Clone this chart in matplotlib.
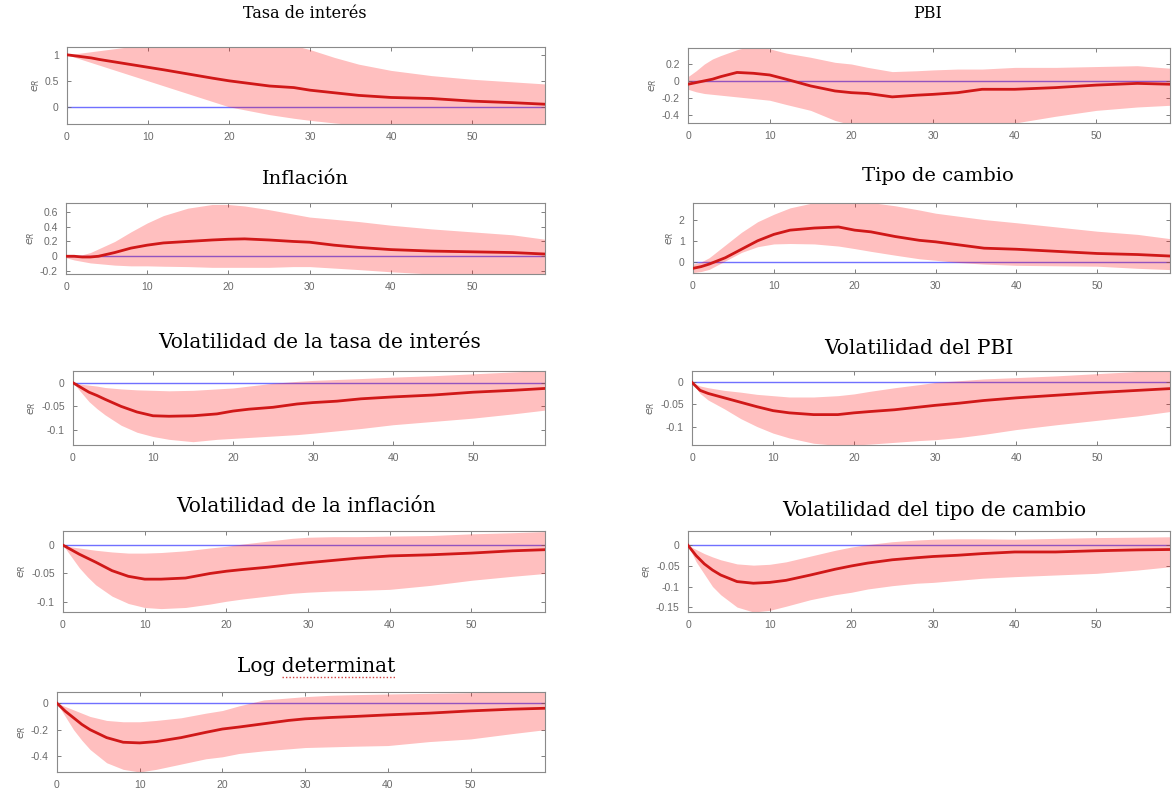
import matplotlib
matplotlib.use("Agg")
import matplotlib.pyplot as plt
from matplotlib.lines import Line2D
import numpy as np

# horizons (quarters)
h = [0, 1, 2, 3, 4, 6, 8, 10, 12, 15, 18, 20, 22, 25, 28, 30, 33, 36, 40, 45, 50, 55, 59]

# Tasa de interés
tasa_med = [1.0, 0.98, 0.96, 0.94, 0.91, 0.86, 0.81, 0.76, 0.71, 0.63, 0.55, 0.50, 0.46, 0.40, 0.37, 0.32, 0.27, 0.22, 0.18, 0.16, 0.11, 0.08, 0.05]
tasa_up = [1.0, 1.02, 1.04, 1.06, 1.08, 1.12, 1.16, 1.2, 1.22, 1.24, 1.24, 1.24, 1.23, 1.22, 1.18, 1.1, 0.95, 0.82, 0.7, 0.6, 0.53, 0.48, 0.44]
tasa_lo = [1.0, 0.95, 0.9, 0.85, 0.8, 0.7, 0.6, 0.5, 0.4, 0.25, 0.1, 0.0, -0.06, -0.15, -0.22, -0.26, -0.31, -0.35, -0.38, -0.4, -0.4, -0.4, -0.4]

# PBI
pbi_med = [-0.04, -0.02, 0.0, 0.02, 0.05, 0.1, 0.09, 0.07, 0.02, -0.06, -0.12, -0.14, -0.15, -0.19, -0.17, -0.16, -0.14, -0.1, -0.1, -0.08, -0.05, -0.03, -0.04]
pbi_up = [0.05, 0.12, 0.2, 0.26, 0.3, 0.37, 0.42, 0.38, 0.33, 0.28, 0.22, 0.2, 0.16, 0.11, 0.12, 0.13, 0.14, 0.14, 0.16, 0.16, 0.17, 0.18, 0.15]
pbi_lo = [-0.1, -0.13, -0.15, -0.16, -0.17, -0.19, -0.21, -0.23, -0.28, -0.35, -0.47, -0.52, -0.52, -0.52, -0.52, -0.52, -0.52, -0.52, -0.5, -0.42, -0.35, -0.31, -0.29]

# Inflación
infl_med = [0, 0, -0.01, -0.01, 0.0, 0.05, 0.11, 0.15, 0.18, 0.2, 0.22, 0.23, 0.235, 0.22, 0.2, 0.19, 0.15, 0.12, 0.09, 0.07, 0.06, 0.05, 0.03]
infl_up = [0, 0.0, 0.02, 0.05, 0.1, 0.2, 0.33, 0.45, 0.55, 0.65, 0.7, 0.7, 0.68, 0.63, 0.57, 0.53, 0.5, 0.47, 0.42, 0.37, 0.33, 0.29, 0.23]
infl_lo = [-0.02, -0.05, -0.07, -0.09, -0.1, -0.12, -0.13, -0.13, -0.135, -0.14, -0.15, -0.15, -0.15, -0.15, -0.14, -0.14, -0.16, -0.18, -0.21, -0.24, -0.24, -0.24, -0.24]

# Tipo de cambio
tc_med = [-0.3, -0.22, -0.1, 0.05, 0.2, 0.6, 1.0, 1.3, 1.5, 1.6, 1.65, 1.5, 1.42, 1.2, 1.02, 0.95, 0.8, 0.65, 0.6, 0.5, 0.4, 0.35, 0.28]
tc_up = [-0.1, 0.0, 0.2, 0.5, 0.8, 1.4, 1.9, 2.25, 2.55, 2.8, 2.85, 2.85, 2.8, 2.65, 2.45, 2.3, 2.15, 2.0, 1.85, 1.65, 1.45, 1.3, 1.1]
tc_lo = [-0.5, -0.45, -0.35, -0.15, 0.05, 0.45, 0.72, 0.85, 0.87, 0.85, 0.75, 0.63, 0.5, 0.32, 0.15, 0.08, -0.03, -0.1, -0.16, -0.18, -0.2, -0.3, -0.36]

# Volatilidad de la tasa de interés
vtasa_med = [0, -0.01, -0.02, -0.027, -0.035, -0.05, -0.062, -0.07, -0.071, -0.07, -0.066, -0.06, -0.056, -0.052, -0.045, -0.042, -0.039, -0.034, -0.03, -0.026, -0.02, -0.016, -0.012]
vtasa_up = [0, -0.003, -0.005, -0.007, -0.01, -0.013, -0.015, -0.016, -0.017, -0.016, -0.013, -0.011, -0.007, -0.001, 0.003, 0.005, 0.007, 0.009, 0.012, 0.015, 0.019, 0.023, 0.026]
vtasa_lo = [0, -0.02, -0.04, -0.055, -0.068, -0.09, -0.105, -0.114, -0.12, -0.125, -0.12, -0.118, -0.116, -0.113, -0.11, -0.107, -0.102, -0.097, -0.089, -0.082, -0.075, -0.066, -0.058]

# Volatilidad del PBI
vpbi_med = [0, -0.018, -0.025, -0.03, -0.035, -0.045, -0.055, -0.064, -0.069, -0.073, -0.073, -0.069, -0.066, -0.062, -0.056, -0.052, -0.047, -0.041, -0.035, -0.029, -0.023, -0.018, -0.014]
vpbi_up = [0, -0.008, -0.012, -0.015, -0.018, -0.022, -0.027, -0.03, -0.033, -0.033, -0.03, -0.026, -0.02, -0.012, -0.005, 0.0, 0.004, 0.008, 0.011, 0.015, 0.02, 0.025, 0.028]
vpbi_lo = [0, -0.025, -0.04, -0.05, -0.06, -0.082, -0.1, -0.115, -0.126, -0.138, -0.143, -0.142, -0.14, -0.136, -0.132, -0.13, -0.125, -0.118, -0.107, -0.096, -0.086, -0.076, -0.066]

# Volatilidad de la inflación
vinf_med = [0, -0.008, -0.016, -0.023, -0.03, -0.045, -0.055, -0.06, -0.06, -0.058, -0.05, -0.046, -0.043, -0.039, -0.034, -0.031, -0.027, -0.023, -0.019, -0.017, -0.014, -0.01, -0.008]
vinf_up = [0, -0.003, -0.005, -0.007, -0.009, -0.012, -0.014, -0.014, -0.013, -0.01, -0.005, -0.002, 0.002, 0.007, 0.012, 0.014, 0.015, 0.015, 0.016, 0.017, 0.02, 0.022, 0.024]
vinf_lo = [0, -0.02, -0.04, -0.056, -0.07, -0.09, -0.103, -0.11, -0.112, -0.11, -0.104, -0.099, -0.095, -0.09, -0.085, -0.083, -0.081, -0.08, -0.078, -0.071, -0.062, -0.055, -0.05]

# Volatilidad del tipo de cambio
vtc_med = [0, -0.025, -0.045, -0.06, -0.072, -0.088, -0.092, -0.09, -0.085, -0.072, -0.058, -0.05, -0.043, -0.035, -0.03, -0.027, -0.024, -0.02, -0.016, -0.016, -0.013, -0.011, -0.01]
vtc_up = [0, -0.01, -0.02, -0.028, -0.035, -0.045, -0.048, -0.046, -0.04, -0.026, -0.012, -0.004, 0.002, 0.009, 0.013, 0.015, 0.016, 0.016, 0.015, 0.017, 0.019, 0.02, 0.021]
vtc_lo = [0, -0.04, -0.07, -0.1, -0.12, -0.15, -0.162, -0.158, -0.148, -0.132, -0.12, -0.114, -0.106, -0.098, -0.092, -0.09, -0.085, -0.08, -0.076, -0.072, -0.068, -0.06, -0.052]

# Log determinat
ld_med = [0, -0.06, -0.11, -0.16, -0.2, -0.26, -0.295, -0.3, -0.29, -0.26, -0.22, -0.195, -0.18, -0.155, -0.13, -0.118, -0.108, -0.1, -0.088, -0.075, -0.058, -0.045, -0.038]
ld_up = [0, -0.025, -0.05, -0.075, -0.1, -0.13, -0.14, -0.14, -0.13, -0.11, -0.075, -0.055, -0.02, 0.025, 0.04, 0.05, 0.06, 0.065, 0.07, 0.075, 0.08, 0.085, 0.085]
ld_lo = [0, -0.1, -0.2, -0.28, -0.35, -0.45, -0.5, -0.52, -0.5, -0.46, -0.42, -0.405, -0.38, -0.36, -0.345, -0.335, -0.33, -0.325, -0.32, -0.29, -0.27, -0.23, -0.2]

titles = ["Tasa de interés", "PBI", "Inflación", "Tipo de cambio",
          "Volatilidad de la tasa de interés", "Volatilidad del PBI",
          "Volatilidad de la inflación", "Volatilidad del tipo de cambio",
          "Log determinat"]
series = [(tasa_med, tasa_up, tasa_lo), (pbi_med, pbi_up, pbi_lo),
          (infl_med, infl_up, infl_lo), (tc_med, tc_up, tc_lo),
          (vtasa_med, vtasa_up, vtasa_lo), (vpbi_med, vpbi_up, vpbi_lo),
          (vinf_med, vinf_up, vinf_lo), (vtc_med, vtc_up, vtc_lo),
          (ld_med, ld_up, ld_lo)]
yticks = [[0, 0.5, 1], [-0.4, -0.2, 0, 0.2], [-0.2, 0, 0.2, 0.4, 0.6], [0, 1, 2],
          [-0.1, -0.05, 0], [-0.1, -0.05, 0], [-0.1, -0.05, 0], [-0.15, -0.1, -0.05, 0],
          [-0.4, -0.2, 0]]
ylims = [(-0.33, 1.15), (-0.5, 0.39), (-0.24, 0.72), (-0.52, 2.78),
         (-0.132, 0.025), (-0.142, 0.026), (-0.118, 0.025), (-0.162, 0.035),
         (-0.52, 0.085)]
xticks = [0, 10, 20, 30, 40, 50]

# layout in pixels: (left, top, right, bottom)
W, H = 1176, 798
boxes = [(67, 47, 545, 124), (688, 48, 1170, 123),
         (66, 203, 545, 274), (693, 203, 1170, 273),
         (73, 371, 545, 445), (692, 371, 1170, 445),
         (63, 531, 545, 612), (688, 531, 1170, 612),
         (57, 692, 545, 772)]
title_pos = [(305, 13, 11.5), (928, 13, 11.5), (305, 179, 14), (938, 176, 14),
             (319, 343, 14.5), (919, 348, 14.5), (306, 506, 14.5), (934, 511, 14.5),
             (316, 666, 14.5)]

fig = plt.figure(figsize=(W / 100, H / 100), dpi=100)
fig.patch.set_facecolor("white")

band_col = "#ff0000"
line_col = "#d01818"
zero_col = "#7070ff"
tick_col = "#6a6a6a"

for i in range(9):
    l, t, r, b = boxes[i]
    ax = fig.add_axes([l / W, 1 - b / H, (r - l) / W, (b - t) / H])
    med, up, lo = series[i]
    ax.axhline(0, color=zero_col, lw=1.0, zorder=1)
    ax.fill_between(h, lo, up, color=band_col, alpha=0.25, lw=0, zorder=2)
    ax.plot(h, med, color=line_col, lw=2.0, zorder=3)
    ax.set_xlim(0, 59)
    ax.set_ylim(*ylims[i])
    ax.set_xticks(xticks)
    ax.set_yticks(yticks[i])
    ax.set_yticklabels([("%g" % v) for v in yticks[i]])
    ax.tick_params(direction="in", length=3, width=0.6, colors=tick_col,
                   labelsize=7.5, top=True, right=True, pad=6)
    for lab in ax.get_xticklabels() + ax.get_yticklabels():
        lab.set_fontfamily("Liberation Sans")
    for sp in ax.spines.values():
        sp.set_color("#8a8a8a")
        sp.set_linewidth(0.8)
    ax.set_ylabel(r"$e_R$", color=tick_col, fontsize=8, labelpad=2)
    tx, ty, fs = title_pos[i]
    fig.text(tx / W, 1 - ty / H, titles[i], ha="center", va="center",
             fontsize=fs, family="DejaVu Serif", color="black")

# spell-check style dotted underline under "determinat"
fig.canvas.draw()
rend = fig.canvas.get_renderer()
ttl = [t for t in fig.texts if t.get_text() == "Log determinat"][0]
bb = ttl.get_window_extent(rend)
tmp = fig.text(0, 0, "Log ", fontsize=14.5, family="DejaVu Serif")
w0 = tmp.get_window_extent(rend).width
tmp.remove()
x0 = (bb.x0 + w0) / W
x1 = bb.x1 / W
yy = (bb.y0 - 1) / H
fig.add_artist(Line2D([x0, x1], [yy, yy], transform=fig.transFigure,
                      color="#d04040", lw=1.0, ls=(0, (1, 1.5))))

fig.savefig("out.png", dpi=100, facecolor="white")
